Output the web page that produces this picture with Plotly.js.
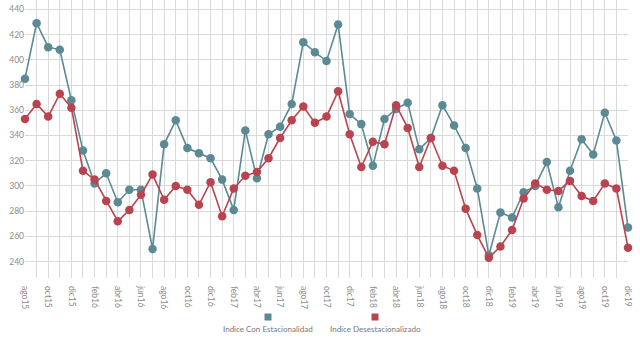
<!DOCTYPE html>
<html>
<head>
<meta charset="utf-8">
<script src="https://cdn.plot.ly/plotly-3.0.1.min.js"></script>
<style>html,body{margin:0;padding:0;background:#fff;}#chart{width:640px;height:338px;}</style>
</head>
<body>
<div id="chart"></div>
<script>
const months = ["ago15","sep15","oct15","nov15","dic15","ene16","feb16","mar16","abr16","may16","jun16","jul16",
"ago16","sep16","oct16","nov16","dic16","ene17","feb17","mar17","abr17","may17","jun17","jul17",
"ago17","sep17","oct17","nov17","dic17","ene18","feb18","mar18","abr18","may18","jun18","jul18",
"ago18","sep18","oct18","nov18","dic18","ene19","feb19","mar19","abr19","may19","jun19","jul19",
"ago19","sep19","oct19","nov19","dic19"];
const conEstacionalidad = [385,429,410,408,368,328,302,310,287,297,297,250,
333,352,330,326,322,305,281,344,306,341,347,365,
414,406,399,428,357,349,316,353,361,366,329,338,
364,348,330,298,245,279,275,295,300,319,283,312,
337,325,358,336,267];
const desestacionalizado = [353,365,355,373,362,312,305,288,272,281,293,309,
289,300,297,285,303,276,298,308,311,322,338,352,
363,350,355,375,341,315,335,333,364,346,315,338,
316,312,282,261,243,252,265,290,302,297,296,304,
292,288,302,298,251];
const seriesNames = ["Indice Con Estacionalidad","Indice Desestacionalizado"];
const yTicks = [240,260,280,300,320,340,360,380,400,420,440];

const colors = ["#5b8a94","#b9444f"];
const tickText = months.map((m,i)=> i%2===0 ? m : "");

function tr(y, name, color){
  return {x: months, y: y, name: name, type:"scatter", mode:"lines+markers",
    line:{color:color, width:1.6}, marker:{color:color, size:8.5}, cliponaxis:false, showlegend:false};
}
const data = [tr(conEstacionalidad, seriesNames[0], colors[0]), tr(desestacionalizado, seriesNames[1], colors[1])];

const legendX = [268, 375];
const annotations = seriesNames.map((n,i)=>({
  text:n, xref:"paper", yref:"paper", x:(legendX[i]-25)/603, y:-(329-278)/278,
  showarrow:false, xanchor:"center", yanchor:"middle",
  font:{family:"Lato, 'Open Sans', sans-serif", size:8, color:"#777"}
}));
const shapes = seriesNames.map((n,i)=>({
  type:"rect", xref:"paper", yref:"paper",
  x0:(legendX[i]-25-3.5)/603, x1:(legendX[i]-25+3.5)/603,
  y0:-(320.5-278)/278, y1:-(313.5-278)/278,
  fillcolor:colors[i], line:{width:0}
}));

const layout = {
  width:640, height:338,
  margin:{l:25, r:12, t:0, b:60},
  paper_bgcolor:"#fff", plot_bgcolor:"#fff",
  showlegend:false,
  xaxis:{type:"category", range:[0,52], tickmode:"array", tickvals:months, ticktext:tickText,
    tickangle:90, showgrid:true, gridcolor:"#d9d9d9", gridwidth:1, zeroline:false, showline:false,
    ticks:"", ticklen:0, ticklabelstandoff:7,
    tickfont:{family:"Lato, 'Open Sans', sans-serif", size:8.5, color:"#8c8c8c"}},
  yaxis:{range:[227,447.4], tickmode:"array", tickvals:yTicks, showgrid:true, gridcolor:"#d9d9d9",
    zeroline:false, showline:false, ticks:"", ticklen:0,
    tickfont:{family:"Lato, 'Open Sans', sans-serif", size:8.5, color:"#8c8c8c"}},
  annotations:annotations, shapes:shapes
};
Plotly.newPlot("chart", data, layout, {displayModeBar:false, staticPlot:true});
</script>
</body>
</html>
